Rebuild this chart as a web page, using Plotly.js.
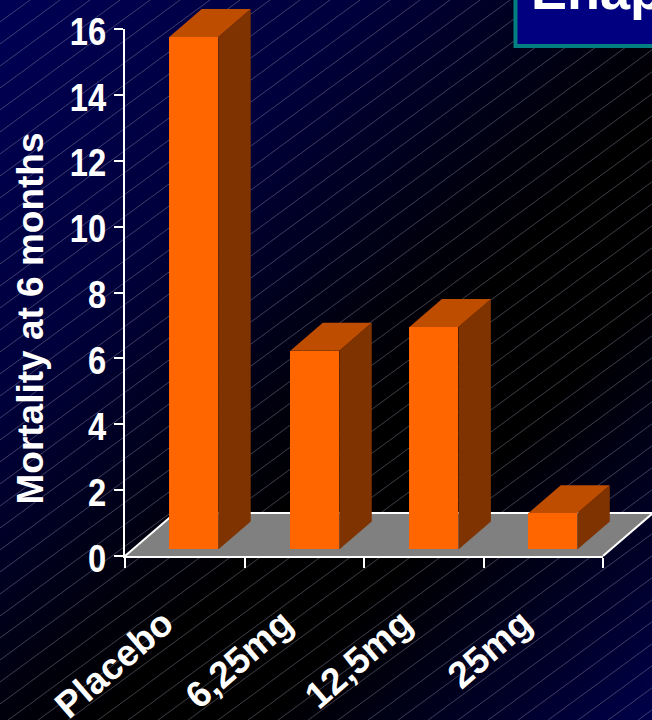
<!DOCTYPE html>
<html>
<head>
<meta charset="utf-8">
<script src="https://cdn.plot.ly/plotly-3.0.1.min.js"></script>
<style>
  html, body { margin: 0; padding: 0; width: 652px; height: 720px; overflow: hidden; background: #000; }
  #backdrop { position: absolute; left: 0; top: 0; }
  #chart { position: absolute; left: 0; top: 0; width: 652px; height: 720px; }
</style>
</head>
<body>
<svg id="backdrop" width="652" height="720" xmlns="http://www.w3.org/2000/svg">
  <defs>
    <linearGradient id="wash" x1="0" y1="0" x2="1" y2="1">
      <stop offset="0" stop-color="#000055"/>
      <stop offset="0.28" stop-color="#00003c"/>
      <stop offset="0.5" stop-color="#00000c"/>
      <stop offset="0.58" stop-color="#000000"/>
      <stop offset="0.7" stop-color="#000000"/>
      <stop offset="0.9" stop-color="#00002e"/>
      <stop offset="1" stop-color="#00004a"/>
    </linearGradient>
    <pattern id="hatch" width="30" height="22" patternUnits="userSpaceOnUse">
      <g stroke="#8c8ca4" stroke-width="0.8" stroke-opacity="0.55">
        <line x1="-30" y1="22" x2="0" y2="0"/>
        <line x1="0" y1="22" x2="30" y2="0"/>
        <line x1="30" y1="22" x2="60" y2="0"/>
      </g>
    </pattern>
  </defs>
  <rect width="652" height="720" fill="url(#wash)"/>
  <rect width="652" height="720" fill="url(#hatch)"/>
</svg>
<div id="chart"></div>
<script>
// Six-month mortality by treatment arm
var categories = ['Placebo', '6,25mg', '12,5mg', '25mg'];
var mortality = [15.56, 6.03, 6.75, 1.1];
var yTicks = [0, 2, 4, 6, 8, 10, 12, 14, 16];

// Page size and where the value axes sit on it
var W = 652, H = 720;
var axisLeft = 125, axisRight = 603, axisTop = 29, axisBottom = 556;
var unitX = (axisRight - axisLeft) / categories.length;   // px per category
var unitY = (axisBottom - axisTop) / 16;                  // px per value unit

// Oblique projection of the bars and floor, in data units
var barBase = 0.2, barWidth = 0.41;
var barOffsets = [-0.13, -0.117, -0.12, -0.125];
var depthX = 32.5 / unitX, depthY = 28 / unitY;
var floorX = 50 / unitX, floorY = 43 / unitY;

var frontColor = '#ff6600', sideColor = '#7f3300', topColor = '#bf4d00';

// Full-page scale for the slanted faces: same units as the visible axes
var pageX = [-axisLeft / unitX - 0.5, (W - axisLeft) / unitX - 0.5];
var pageY = [-(H - axisBottom) / unitY, axisBottom / unitY];

function face(xs, ys, color) {
  return { type: 'scatter', mode: 'lines', x: xs.concat(xs[0]), y: ys.concat(ys[0]),
           fill: 'toself', fillcolor: color, line: { width: 0, color: color },
           xaxis: 'x', yaxis: 'y', hoverinfo: 'skip', showlegend: false };
}

var traces = [];
mortality.forEach(function (v, i) {
  var l = i + barOffsets[i], r = l + barWidth, b = barBase, t = barBase + v;
  traces.push(face([r, r + depthX, r + depthX, r], [b, b + depthY, t + depthY, t], sideColor));
  traces.push(face([l, r, r + depthX, l + depthX], [t, t, t + depthY, t + depthY], topColor));
});

// Front faces sit on the real category and value axes
traces.push({ type: 'bar', x: categories, y: mortality, base: barBase,
              offset: barOffsets, width: barWidth,
              marker: { color: frontColor, line: { width: 0 } },
              xaxis: 'x2', yaxis: 'y2', hoverinfo: 'skip', showlegend: false });

var x0 = -0.5, x1 = categories.length - 0.5;
var whiteEdge = { color: '#ffffff', width: 2 };
var shapes = [
  // floor
  { type: 'path', xref: 'x', yref: 'y', layer: 'below', fillcolor: '#808080', line: { width: 0 },
    path: 'M' + x0 + ',0 L' + x1 + ',0 L' + (x1 + floorX) + ',' + floorY + ' L' + (x0 + floorX) + ',' + floorY + ' Z' },
  { type: 'line', xref: 'x', yref: 'y', layer: 'below', line: whiteEdge,
    x0: x0, y0: 0, x1: x0 + floorX, y1: floorY },
  { type: 'line', xref: 'x', yref: 'y', layer: 'below', line: whiteEdge,
    x0: x1, y0: 0, x1: x1 + floorX, y1: floorY },
  { type: 'line', xref: 'x', yref: 'y', layer: 'below', line: whiteEdge,
    x0: x0 + floorX, y0: floorY, x1: x1 + floorX, y1: floorY },
  // heading box, running off the top and right of the page
  { type: 'rect', xref: 'paper', yref: 'paper', layer: 'above',
    x0: 515.5 / W, x1: 700 / W, y0: 1 - 46 / H, y1: 1 + 20 / H,
    fillcolor: '#000080', line: { color: '#008080', width: 4 } }
];

var boldFace = '"Liberation Sans", Arial, sans-serif';

var layout = {
  width: W, height: H,
  margin: { l: 0, r: 0, t: 0, b: 0, pad: 0 },
  paper_bgcolor: 'rgba(0,0,0,0)',
  plot_bgcolor: 'rgba(0,0,0,0)',
  showlegend: false,
  bargap: 0,
  shapes: shapes,
  xaxis: { domain: [0, 1], range: pageX, visible: false, fixedrange: true },
  yaxis: { domain: [0, 1], range: pageY, visible: false, fixedrange: true },
  xaxis2: {
    domain: [axisLeft / W, axisRight / W], anchor: 'y2', type: 'category',
    categoryorder: 'array', categoryarray: categories, range: [x0, x1],
    showgrid: false, zeroline: false, showline: true, linecolor: '#ffffff', linewidth: 2,
    ticks: 'outside', ticklen: 10, tickwidth: 2, tickcolor: '#ffffff',
    tickson: 'boundaries', tickangle: -41, ticklabelstandoff: 29, ticklabelshift: -21,
    tickfont: { family: boldFace, size: 37, color: '#ffffff', weight: 700 }
  },
  yaxis2: {
    domain: [1 - axisBottom / H, 1 - axisTop / H], anchor: 'x2', range: [0, 16],
    tickvals: yTicks, showgrid: false, zeroline: false, showline: true,
    linecolor: '#ffffff', linewidth: 2,
    ticks: 'outside', ticklen: 9, tickwidth: 2, tickcolor: '#ffffff',
    tickfont: { family: boldFace, size: 39, color: '#ffffff', weight: 700 },
    title: { text: 'Mortality at 6 months', standoff: 16,
             font: { family: boldFace, size: 37, color: '#ffffff', weight: 700 } }
  },
  annotations: [{
    xref: 'paper', yref: 'paper', x: 529 / W, y: 1 + 42 / H,
    xanchor: 'left', yanchor: 'top', showarrow: false, align: 'left',
    text: '<b>Enap</b>',
    font: { family: boldFace, size: 54, color: '#ffffff' }
  }]
};

Plotly.newPlot('chart', traces, layout, { displayModeBar: false, staticPlot: true }).then(function (gd) {
  // Condensed value labels, pinned at their right-hand edge
  gd.querySelectorAll('.y2tick text').forEach(function (t) {
    var b = t.getBBox(), right = b.x + b.width;
    var prior = t.getAttribute('transform') || '';
    t.setAttribute('transform', prior + ' translate(' + right + ',2) scale(0.84,1) translate(' + (-right) + ',0)');
  });
  // Axis title sits lower and closer to the ticks than its default
  var title = gd.querySelector('.y2title');
  if (title) {
    title.setAttribute('transform', 'translate(8,26) ' + (title.getAttribute('transform') || ''));
  }
});
</script>
</body>
</html>
